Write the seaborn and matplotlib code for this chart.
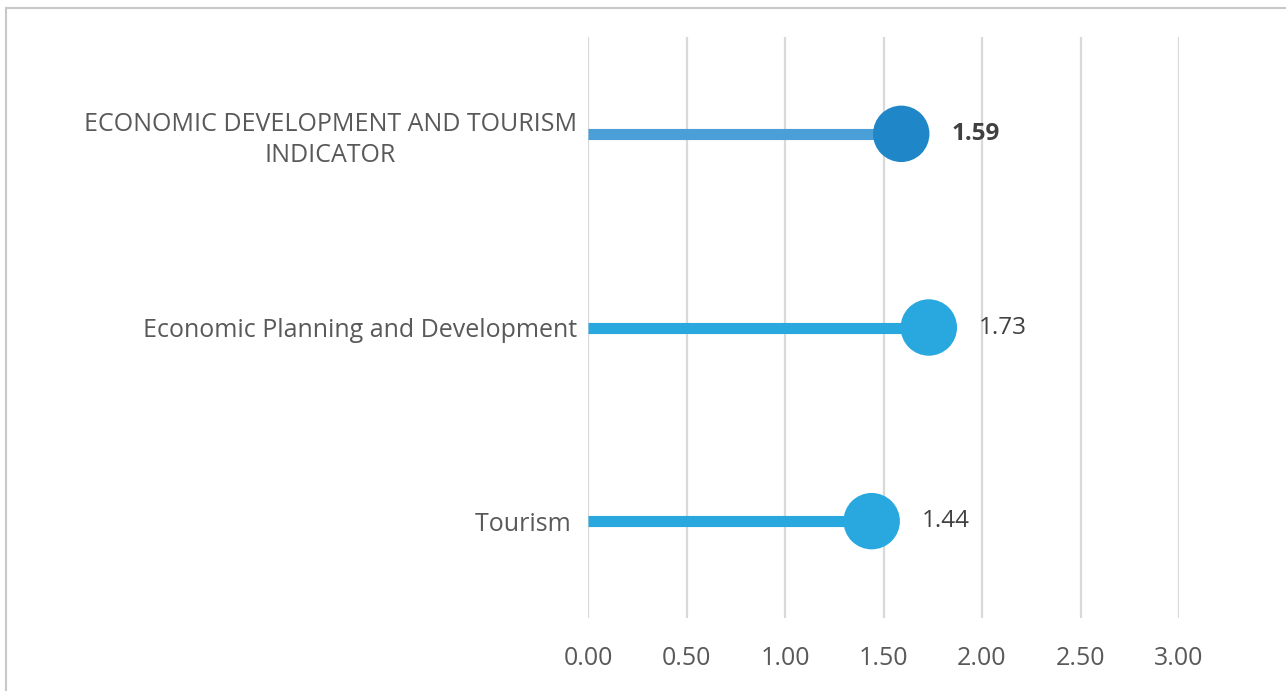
import numpy as np
import pandas as pd
import matplotlib
matplotlib.use("Agg")
import matplotlib.pyplot as plt
from matplotlib.patches import Rectangle
import seaborn as sns

categories = ["ECONOMIC DEVELOPMENT AND TOURISM\nINDICATOR",
              "Economic Planning and Development",
              "Tourism "]
values = [1.59, 1.73, 1.44]
line_colors = ["#4A9FD8", "#29A8E0", "#29A8E0"]
dot_colors = ["#1F86C8", "#29A8E0", "#29A8E0"]
bold_label = [True, False, False]
x_ticks = [0.0, 0.5, 1.0, 1.5, 2.0, 2.5, 3.0]

sns.set_theme(style="white")
plt.rcParams["font.family"] = ["Open Sans", "DejaVu Sans"]

df = pd.DataFrame({"category": categories, "value": values})
df["pos"] = np.arange(len(df))

W, H = 1286, 691
fig = plt.figure(figsize=(W / 100, H / 100), dpi=100)
ax = fig.add_axes([588 / W, 1 - 618 / H, (1179 - 588) / W, (618 - 37) / H])

# stems from zero to each value
ax.hlines(df["pos"], 0, df["value"], colors=line_colors, linewidth=8, zorder=2)

# value markers
sns.scatterplot(data=df, x="value", y="pos", hue="category", palette=dot_colors,
                s=1650, linewidth=0, legend=False, ax=ax, zorder=3)

for p, v, b in zip(df["pos"], df["value"], bold_label):
    ax.annotate(f"{v:.2f}", (v, p), xytext=(36, 0), textcoords="offset points",
                ha="left", va="center", fontsize=17.5, color="#404040",
                fontweight="bold" if b else "normal")

ax.set_xlim(0, 3.0)
ax.set_ylim(len(categories) - 0.5, -0.5)
ax.set_xticks(x_ticks)
ax.set_xticklabels([f"{t:.2f}" for t in x_ticks])
ax.set_yticks(df["pos"])
ax.set_yticklabels(categories, multialignment="center", linespacing=1.35)
ax.tick_params(axis="x", length=0, pad=20, labelsize=18, labelcolor="#595959")
ax.tick_params(axis="y", length=0, pad=8, labelsize=18, labelcolor="#595959")
ax.set_xlabel("")
ax.set_ylabel("")

ax.grid(axis="x", color="#D9D9D9", linewidth=1.6)
ax.grid(axis="y", visible=False)
ax.set_axisbelow(True)
for s in ax.spines.values():
    s.set_visible(False)

# chart-area frame
fig.patches.append(Rectangle((5.5 / W, -0.1), 1.2, 1.1 - 8 / H, transform=fig.transFigure,
                             fill=False, edgecolor="#C8C8C8", linewidth=1.5, zorder=0))

fig.savefig("out.png", dpi=100)
